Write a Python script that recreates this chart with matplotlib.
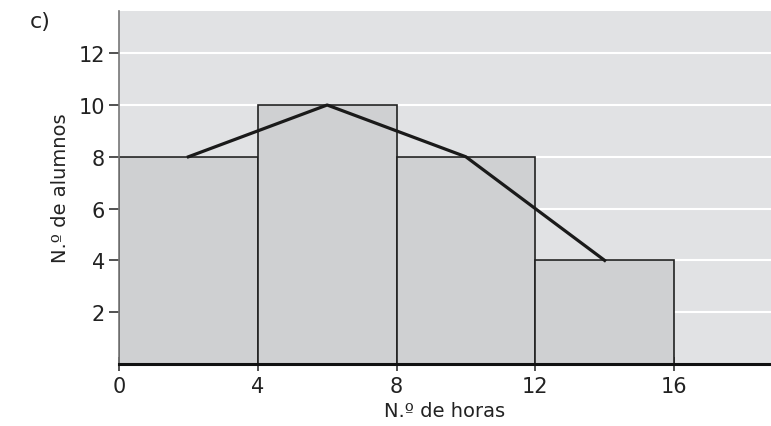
import matplotlib
matplotlib.use("Agg")
import matplotlib.pyplot as plt

edges = [0, 4, 8, 12, 16]
counts = [8, 10, 8, 4]
poly_x = [2, 6, 10, 14]
poly_y = [8, 10, 8, 4]
xticks = [0, 4, 8, 12, 16]
yticks = [2, 4, 6, 8, 10, 12]

plt.rcParams['font.family'] = ['DejaVu Sans']
fig = plt.figure(figsize=(7.71, 4.27), dpi=100)
ax = fig.add_axes([119/771, 62/427, 1 - 119/771, (365-12)/427])
ax.set_facecolor('#e1e2e4')
ax.set_xlim(0, (771-119)/34.69)
ax.set_ylim(0, (365-12)/25.9)

for y in yticks:
    ax.axhline(y, color='white', lw=1.5, zorder=1)

widths = [edges[i+1]-edges[i] for i in range(len(counts))]
ax.bar(edges[:-1], counts, width=widths, align='edge', color='#cfd0d2',
       edgecolor='#222222', linewidth=1.2, zorder=2)
ax.plot(poly_x, poly_y, color='#1a1a1a', lw=2.3, zorder=3)

for s in ['top', 'right']:
    ax.spines[s].set_visible(False)
ax.spines['left'].set_color('#777777')
ax.spines['left'].set_linewidth(1.2)
ax.spines['bottom'].set_color('#111111')
ax.spines['bottom'].set_linewidth(2.2)

ax.set_xticks(xticks)
ax.set_yticks(yticks)
ax.tick_params(axis='y', direction='out', length=7, width=1.2, color='#333333',
               labelsize=15, pad=3, labelcolor='#222222')
ax.tick_params(axis='x', direction='inout', length=10, width=1.2, color='#333333',
               labelsize=15, pad=4, labelcolor='#222222')
ax.set_xlabel('N.º de horas', fontsize=14, color='#222222', labelpad=3)
ax.set_ylabel('N.º de alumnos', fontsize=14, color='#222222', labelpad=6)
fig.text(30/771, 1 - 22/427, 'c)', fontsize=16, color='#222222', ha='left', va='center')

fig.savefig('out.png', dpi=100)
